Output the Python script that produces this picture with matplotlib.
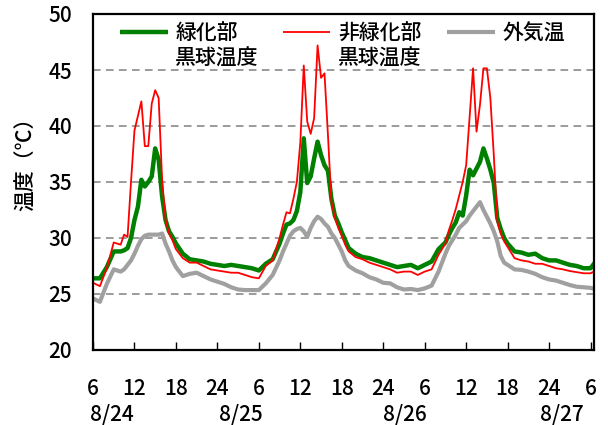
import matplotlib
matplotlib.use("Agg")
import matplotlib.pyplot as plt

plt.rcParams['font.family'] = ['Noto Sans CJK JP', 'DejaVu Sans']
plt.rcParams['font.weight'] = 'medium'

# 8/24 6:00 からの経過時間 [h] (日中は30分間隔)
hours = [0, 1, 2, 3,
         4, 4.5, 5, 5.5, 6, 6.5, 7, 7.5, 8, 8.5, 9, 9.5, 10, 10.5, 11, 11.5, 12,
         13, 14, 15, 16, 17, 18, 19, 20, 21, 22, 23, 24, 25, 26,
         27, 27.5, 28, 28.5, 29, 29.5, 30, 30.5, 31, 31.5, 32, 32.5, 33, 33.5,
         34, 34.5, 35, 35.5, 36, 36.5, 37,
         38, 39, 40, 41, 42, 43, 44, 45, 46, 47, 48, 49, 50, 51,
         51.5, 52, 52.5, 53, 53.5, 54, 54.5, 55, 55.5, 56, 56.5, 57, 57.5,
         58, 58.5, 59, 59.5, 60,
         61, 62, 63, 64, 65, 66, 67, 68, 69, 70, 71, 72, 72.5]

# 緑化部 黒球温度
green_globe = [26.4, 26.4, 27.4, 28.8,
               28.8, 28.9, 29.1, 30.0, 31.6, 32.8, 35.2, 34.6, 35.0, 35.5, 38.0, 37.0, 33.7, 31.6, 30.6, 30.1, 29.5,
               28.6, 28.1, 28.0, 27.9, 27.7, 27.6, 27.5, 27.6, 27.5, 27.4, 27.3, 27.1, 27.7, 28.1,
               29.5, 30.4, 31.2, 31.3, 31.6, 32.4, 34.1, 38.9, 34.9, 35.5, 37.1, 38.6, 37.4, 36.5,
               36.0, 33.5, 32.0, 31.3, 30.5, 29.8, 29.1,
               28.6, 28.3, 28.2, 28.0, 27.8, 27.6, 27.4, 27.5, 27.6, 27.3, 27.6, 27.9, 29.0, 29.6,
               30.3, 30.9, 31.4, 32.3, 32.0, 33.8, 36.1, 35.6, 36.2, 36.8, 38.0, 37.1, 36.1,
               34.9, 31.8, 30.8, 30.0, 29.5,
               28.8, 28.7, 28.5, 28.6, 28.2, 28.0, 28.0, 27.8, 27.6, 27.5, 27.3, 27.3, 27.7]

# 非緑化部 黒球温度
bare_globe = [26.0, 25.7, 27.3, 29.6,
              29.4, 30.3, 30.1, 35.0, 39.6, 40.9, 42.2, 38.2, 38.2, 42.0, 43.2, 42.5, 35.2, 31.6, 30.4, 29.8, 29.0,
              28.2, 27.8, 27.8, 27.5, 27.2, 27.1, 27.0, 26.9, 26.9, 26.7, 26.5, 26.4, 27.5, 28.0,
              30.0, 31.2, 32.3, 32.2, 33.5, 35.0, 38.5, 45.4, 40.4, 39.3, 40.7, 47.2, 44.3, 44.7,
              39.2, 33.2, 31.8, 30.9, 30.2, 29.4, 28.8,
              28.3, 28.1, 27.8, 27.6, 27.4, 27.2, 26.9, 27.0, 27.0, 26.7, 27.0, 27.2, 28.5, 29.5,
              30.7, 31.6, 32.6, 33.8, 35.0, 36.5, 40.8, 45.15, 39.5, 41.9, 45.15, 45.15, 42.5,
              37.4, 31.5, 30.4, 29.7, 29.2,
              28.2, 28.0, 27.9, 27.7, 27.7, 27.5, 27.3, 27.2, 27.05, 26.95, 26.85, 26.85, 27.0]

# 外気温
air_temp = [24.6, 24.3, 25.9, 27.2,
            27.0, 27.2, 27.6, 28.0, 28.6, 29.3, 29.9, 30.2, 30.3, 30.3, 30.3, 30.3, 30.4, 29.5, 28.8, 28.0, 27.4,
            26.6, 26.8, 26.9, 26.6, 26.3, 26.1, 25.9, 25.6, 25.4, 25.35, 25.35, 25.35, 25.95, 26.7,
            28.0, 28.8, 29.5, 30.2, 30.6, 30.8, 30.9, 30.6, 30.1, 30.9, 31.5, 31.9, 31.7, 31.3,
            31.0, 30.4, 30.0, 29.4, 28.8, 28.0, 27.5,
            27.1, 26.85, 26.5, 26.3, 26.0, 25.95, 25.6, 25.4, 25.45, 25.35, 25.5, 25.75, 27.0, 28.6,
            29.3, 29.8, 30.3, 30.9, 31.2, 31.5, 32.0, 32.4, 32.8, 33.2, 32.5, 31.9, 31.3,
            30.6, 29.7, 28.4, 27.8, 27.6,
            27.2, 27.15, 27.0, 26.8, 26.5, 26.3, 26.2, 26.0, 25.8, 25.65, 25.6, 25.55, 25.45]

tick_hours = list(range(0, 73, 6))
tick_labels = ["6", "12", "18", "24"] * 3 + ["6"]
date_labels = ["8/24", "8/25", "8/26", "8/27"]
date_hours = [2.8, 21.4, 45.2, 67.8]

series = [
    ("緑化部", "黒球温度", green_globe, "#008000", 3.2),
    ("非緑化部", "黒球温度", bare_globe, "#ff0000", 1.3),
    ("外気温", "", air_temp, "#a0a0a0", 3.0),
]

fig = plt.figure(figsize=(6.08, 4.25), dpi=100)
ax = fig.add_axes([93 / 608, 75 / 425, 501 / 608, 336 / 425])

for _, _, values, color, lw in series:
    ax.plot(hours, values, color=color, linewidth=lw)

ax.set_xlim(0, 72.5)
ax.set_ylim(20, 50)

for y in range(25, 50, 5):
    ax.axhline(y, color="#808080", linewidth=1.1, linestyle=(0, (5, 3.5)), zorder=0)

ax.set_xticks(tick_hours)
ax.set_xticklabels(tick_labels)
ax.set_yticks(range(20, 51, 5))
ax.tick_params(axis="x", direction="in", length=6, width=1, labelsize=15, pad=20)
ax.tick_params(axis="y", length=0, labelsize=15, pad=15)

for d, h in zip(date_labels, date_hours):
    ax.text(h, -0.193, d, transform=ax.get_xaxis_transform(),
            ha="center", va="center", fontsize=15)

for spine in ax.spines.values():
    spine.set_linewidth(1.6)
    spine.set_color("black")

fig.text(26.5 / 608, 1 - 159 / 425, "温度（℃）", rotation=90,
         ha="center", va="center", fontsize=15)

# 凡例 (2行ラベルのため手書き)
legend_x = [0.054, 0.379, 0.7066]
for (line1, line2, _, color, lw), x0 in zip(series, legend_x):
    ax.plot([x0, x0 + 0.095], [0.947, 0.947], color=color, linewidth=lw,
            transform=ax.transAxes, solid_capstyle="butt")
    ax.text(x0 + 0.11, 0.9405, line1, transform=ax.transAxes,
            ha="left", va="center", fontsize=15)
    if line2:
        ax.text(x0 + 0.11, 0.866, line2, transform=ax.transAxes,
                ha="left", va="center", fontsize=15)

fig.savefig("out.png", dpi=100)
plt.close(fig)
